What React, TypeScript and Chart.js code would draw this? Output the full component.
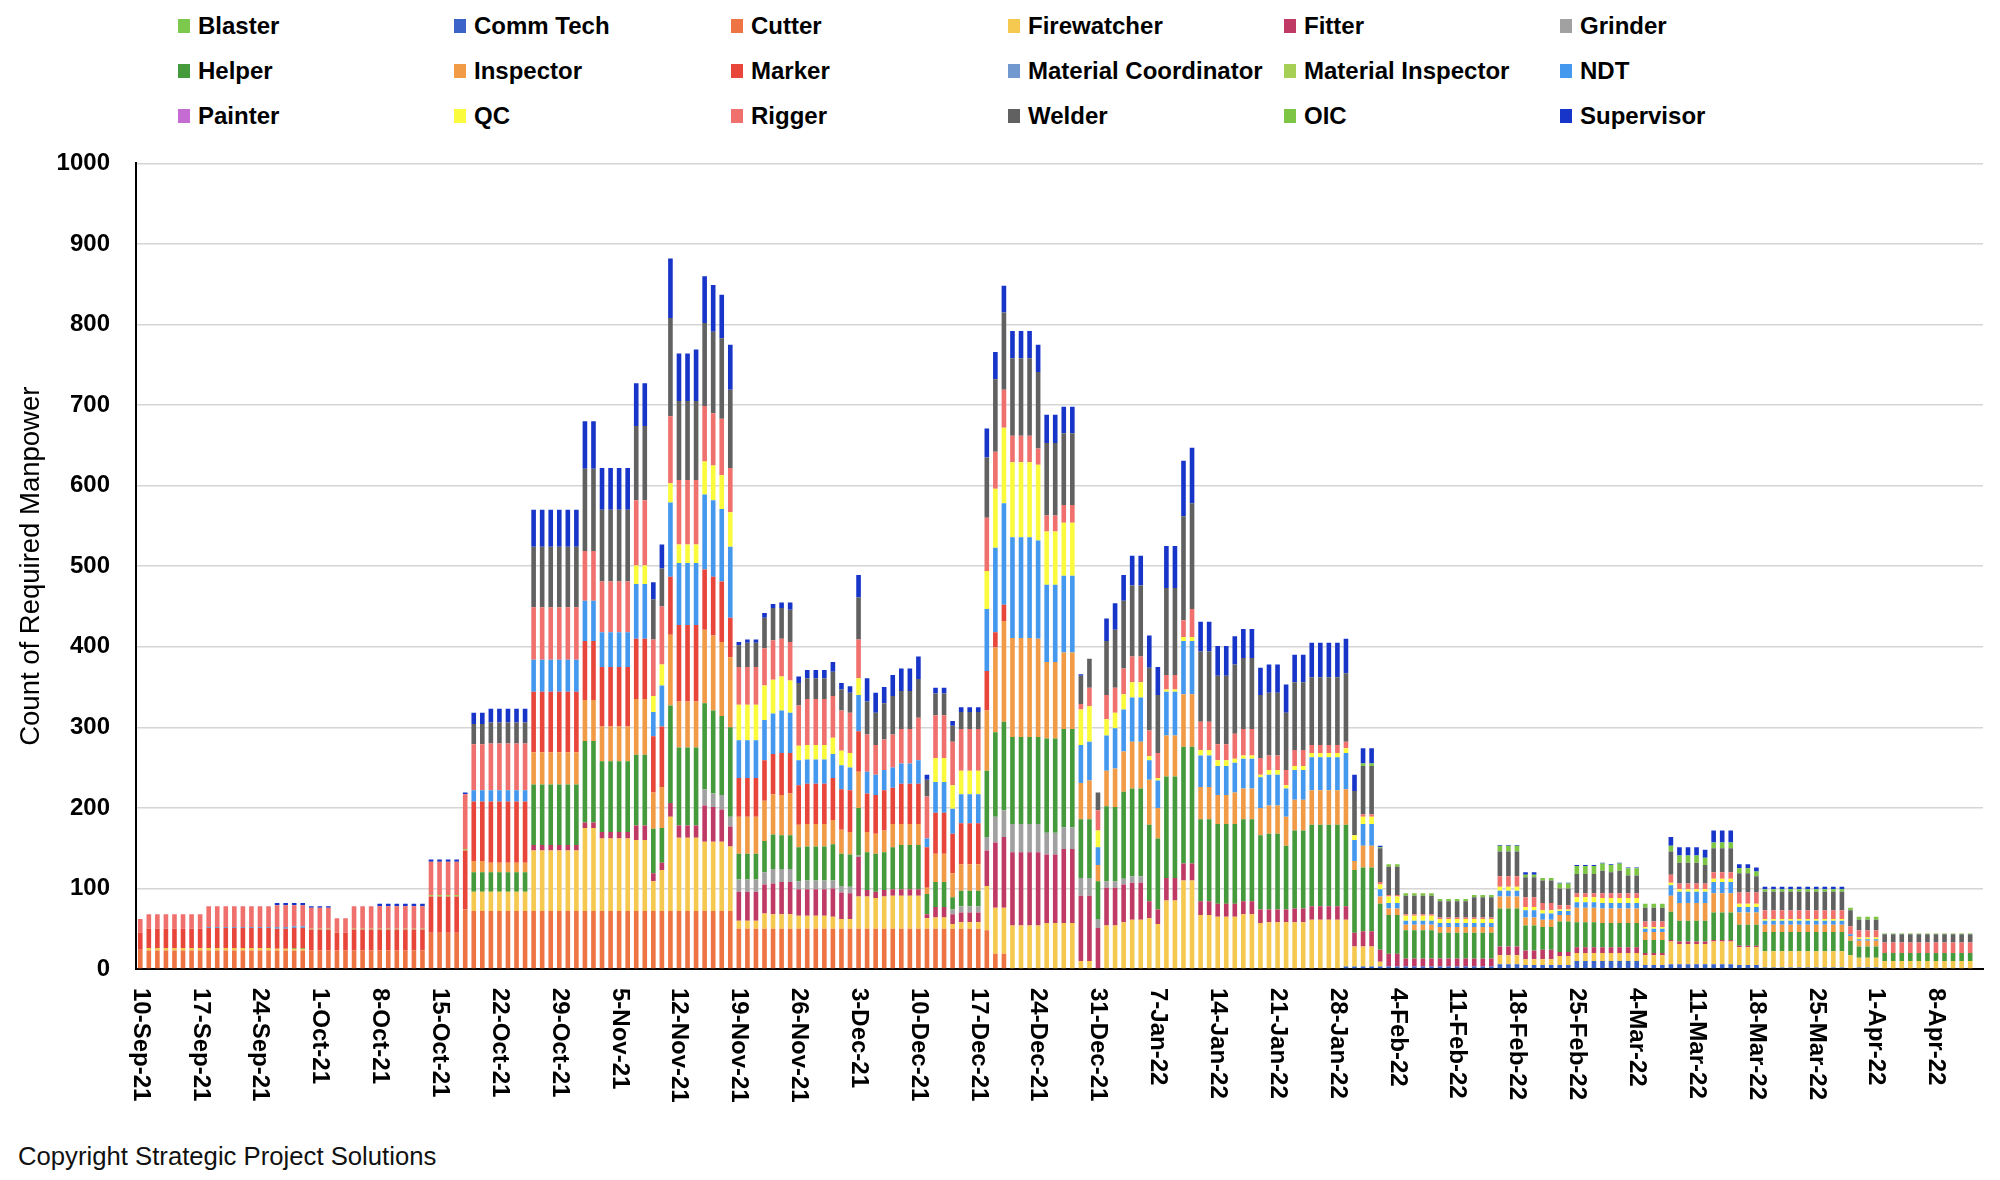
import React, { useEffect, useRef } from "react";
import { Chart, registerables } from "chart.js";

Chart.register(...registerables);

const FONT = '"Liberation Sans", Arial, Helvetica, sans-serif';

// ---- categories: one per day from 10-Sep-21 (216 days, last one empty) ----
const START_DATE = { y: 2021, m: 8, d: 10 };
const DAY_COUNT = 216;
const MONTHS = ["Jan", "Feb", "Mar", "Apr", "May", "Jun", "Jul", "Aug", "Sep", "Oct", "Nov", "Dec"];
function buildCategories(): string[] {
  const out: string[] = [];
  for (let i = 0; i < DAY_COUNT; i++) {
    const dt = new Date(Date.UTC(START_DATE.y, START_DATE.m, START_DATE.d + i));
    out.push(`${dt.getUTCDate()}-${MONTHS[dt.getUTCMonth()]}-${String(dt.getUTCFullYear()).slice(2)}`);
  }
  return out;
}
const CATEGORIES = buildCategories();

const TICK_LABELS = [
  "10-Sep-21", "17-Sep-21", "24-Sep-21", "1-Oct-21", "8-Oct-21", "15-Oct-21", "22-Oct-21",
  "29-Oct-21", "5-Nov-21", "12-Nov-21", "19-Nov-21", "26-Nov-21", "3-Dec-21", "10-Dec-21",
  "17-Dec-21", "24-Dec-21", "31-Dec-21", "7-Jan-22", "14-Jan-22", "21-Jan-22", "28-Jan-22",
  "4-Feb-22", "11-Feb-22", "18-Feb-22", "25-Feb-22", "4-Mar-22", "11-Mar-22", "18-Mar-22",
  "25-Mar-22", "1-Apr-22", "8-Apr-22",
];

const Y_TICKS = [0, 100, 200, 300, 400, 500, 600, 700, 800, 900, 1000];

// ---- series values (one value per day, a line per week) ----
const BLASTER: number[] = [];
const PAINTER: number[] = [];

const COMM_TECH = [
  0,0,0,0,0,0,0, 0,0,0,0,0,0,0, 0,0,0,0,0,0,0, 0,0,0,0,0,0,0, 0,0,0,0,0,0,0,
  0,0,0,0,0,0,0, 0,0,0,0,0,0,0, 0,0,0,0,0,0,0, 0,0,0,0,0,0,0, 0,0,0,0,0,0,0,
  0,0,0,0,0,0,0, 0,0,0,0,0,0,0, 0,0,0,0,0,0,0, 0,0,0,0,0,0,0, 0,0,0,0,0,0,0,
  0,0,0,0,0,0,0, 0,0,0,0,0,0,0, 0,0,0,0,0,0,0, 0,0,0,0,0,0,0, 0,0,0,0,0,0,0,
  0,3,3,3,3,3,3, 3,3,3,3,3,3,3, 3,3,3,3,3,6,6, 6,5,5,5,5,5,5, 10,10,10,10,10,10,10,
  10,5,5,5,6,6,6, 6,6,6,6,6,5,5, 5,2,2,2,2,2,2, 2,2,2,2,0,2,2, 2,0,0,0,0,0,0,
  0,0,0,0,0,0,
];

const CUTTER = [
  24,23,23,23,23,23,23, 23,23,23,23,23,23,23, 23,23,23,23,23,23,23, 23,23,23,23,23,23,23,
  23,23,23,23,23,23,45, 45,45,45,74,72,72,72, 72,72,72,72,72,72,72, 72,72,72,72,72,72,72,
  72,72,72,72,72,72,72, 72,72,72,72,72,72,72, 50,50,50,50,50,50,50, 50,50,50,50,50,50,50,
  50,50,50,50,50,50,50, 50,50,50,50,50,50,50, 50,48,19,19,0,0,0, 0,0,0,0,0,0,0,
  0,0,0,0,0,0,0, 0,0,0,0,0,0,0, 0,0,0,0,0,0,0, 0,0,0,0,0,0,0, 0,0,0,0,0,0,0,
  0,0,0,0,0,0,0, 0,0,0,0,0,0,0, 0,0,0,0,0,0,0, 0,0,0,0,0,0,0, 0,0,0,0,0,0,0,
  0,0,0,0,0,0,0, 0,0,0,0,0,0,0, 0,0,0,0,0,0,
];

const FIREWATCHER = [
  0,3,3,3,3,3,3, 3,3,3,3,3,3,3, 3,3,2,2,2,2,0, 0,0,0,0,0,0,0, 0,0,0,0,0,0,0,
  0,0,0,0,24,24,24, 24,24,24,24,75,75,75, 75,75,75,103,103,90,90, 90,90,88,88,37,51,117,
  91,91,91,86,86,86,80, 10,10,10,19,18,18,18, 16,16,16,16,15,12,12, 40,40,38,40,41,41,41,
  41,13,14,14,6,8,8, 8,55,57,57,54,54,54, 54,57,57,57,57,10,10, 0,54,54,58,61,61,63,
  56,85,85,110,110,67,67, 65,65,65,68,68,57,58, 58,58,58,58,61,61,61, 61,58,25,25,25,6,0,
  0,0,0,0,0,0,0, 0,0,0,0,0,11,11, 11,7,7,7,7,11,11, 10,10,10,10,10,10,10,
  10,12,12,12,28,25,25, 25,25,28,28,28,22,22, 22,20,20,20,20,20,20, 20,20,20,20,17,12,12,
  12,10,10,10,10,10,10, 10,10,10,10,10,0,
];

const FITTER = [
  0,0,0,0,0,0,0, 0,0,0,0,0,0,0, 0,0,0,0,0,0,0, 0,0,0,0,0,0,0, 0,0,0,0,0,0,0,
  0,0,0,0,0,0,0, 0,0,0,0,7,7,7, 7,7,7,7,7,8,8, 8,8,18,18,10,9,17,
  15,15,15,45,43,40,25, 36,36,36,36,38,40,40, 33,33,33,33,35,33,32, 49,8,8,8,8,8,8,
  8,5,13,13,12,12,12, 12,44,81,88,91,91,91, 91,85,85,92,92,81,81, 51,47,47,47,46,46,21,
  18,28,28,21,21,17,17, 16,16,16,16,16,17,16, 16,16,17,17,17,17,17, 17,17,17,19,19,15,16,
  16,10,10,10,10,10,10, 10,10,10,10,10,11,11, 11,11,11,12,12,5,5, 7,7,7,7,7,7,7,
  7,3,3,3,2,3,3, 3,3,2,2,2,2,2, 2,0,0,0,0,0,0, 0,0,0,0,0,0,0,
  0,0,0,0,0,0,0, 0,0,0,0,0,0,
];

const GRINDER = [
  0,0,0,0,0,0,0, 0,0,0,0,0,0,0, 0,0,0,0,0,0,0, 0,0,0,0,0,0,0, 0,0,0,0,0,0,0,
  0,0,0,0,0,0,0, 0,0,0,0,0,0,0, 0,0,0,0,0,0,0, 0,0,0,0,0,0,0,
  0,0,0,20,17,18,12, 15,15,15,15,18,16,16, 10,11,11,11,10,8,8, 2,0,0,0,0,0,0,
  0,0,0,0,6,8,8, 8,17,32,33,35,35,35, 35,27,27,27,27,22,22, 11,8,8,7,8,8,0,
  0,0,0,0,0,0,0, 0,0,0,0,0,0,0, 0,0,0,0,0,0,0, 0,0,0,0,0,0,0,
  0,0,0,0,0,0,0, 0,0,0,0,0,0,0, 0,0,0,0,0,0,0, 0,0,0,0,0,0,0,
  0,0,0,0,0,0,0, 0,0,0,0,0,0,0, 0,0,0,0,0,0,0, 0,0,0,0,0,0,0,
  0,0,0,0,0,0,0, 0,0,0,0,0,0,
];

const HELPER = [
  0,0,0,0,0,0,0, 0,0,0,0,0,0,0, 0,0,0,0,1,1,0, 0,0,0,0,0,0,0, 0,0,0,0,0,0,0,
  0,0,0,0,24,24,24, 24,24,24,24,75,75,75, 75,75,75,101,101,88,88, 88,88,88,88,55,43,121,
  97,97,97,107,103,98,111, 32,32,32,39,43,42,42, 42,42,42,42,45,40,40, 59,47,47,47,52,55,55,
  55,25,31,31,15,19,19, 19,82,105,110,108,108,108, 108,117,117,122,122,73,73, 47,93,92,108,109,109,95,
  88,126,126,145,145,102,102, 99,99,99,102,102,92,94, 94,79,97,97,101,101,101, 101,101,78,79,79,57,48,
  48,35,35,35,35,32,32, 32,32,32,32,32,47,47, 47,31,31,28,28,38,38, 31,31,31,30,30,30,30,
  30,16,16,16,35,26,26, 26,26,34,34,34,26,26, 26,24,24,24,24,24,24, 24,24,24,24,18,14,14,
  14,10,10,10,10,10,10, 10,10,10,10,10,0,
];

const INSPECTOR = [
  0,0,0,0,0,0,0, 0,0,0,0,0,0,0, 0,0,0,0,0,0,0, 0,0,0,0,0,0,0, 0,0,0,0,0,0,0,
  0,0,0,0,14,14,12, 12,12,12,12,40,40,40, 40,40,40,51,51,43,43, 43,43,69,69,45,51,88,
  57,57,57,91,93,92,87, 46,46,46,50,50,50,52, 28,28,28,28,30,30,28, 45,25,25,27,29,26,26,
  26,8,35,35,30,33,33, 33,75,105,125,123,123,123, 122,95,95,95,95,45,48, 20,44,48,50,58,58,56,
  38,51,51,65,65,40,40, 36,36,39,38,38,34,35, 35,36,38,38,43,43,43, 43,44,11,27,27,9,8,
  8,7,7,7,7,7,7, 7,7,7,7,7,15,15, 15,10,10,9,9,8,8, 18,18,18,18,18,18,18,
  18,10,10,10,20,22,22, 22,22,24,24,24,15,15, 15,9,9,9,9,9,9, 9,9,9,9,6,7,7,
  7,0,0,0,0,0,0, 0,0,0,0,0,0,
];

const MARKER = [
  21,24,24,24,24,24,24, 24,25,25,25,25,25,25, 25,25,25,25,25,25,26, 26,26,22,22,26,26,26,
  26,26,26,26,26,26,45, 45,45,45,73,74,74,76, 76,76,76,76,75,75,75, 75,75,75,73,73,74,74,
  74,74,75,75,70,75,72, 95,95,95,75,73,75,49, 48,48,48,50,50,52,50, 49,50,50,50,52,50,52,
  50,48,48,50,45,50,50, 50,50,51,51,49,51,51, 51,49,19,20,0,0,0, 0,0,0,0,0,0,0,
  0,0,0,0,0,0,0, 0,0,0,0,0,0,0, 0,0,0,0,0,0,0, 0,0,0,0,0,0,0, 0,0,0,0,0,0,0,
  0,0,0,0,0,0,0, 0,0,0,0,0,0,0, 0,0,0,0,0,0,0, 0,0,0,0,0,0,0, 0,0,0,0,0,0,0,
  0,0,0,0,0,0,0, 0,0,0,0,0,0,0, 0,0,0,0,0,0,
];

const MATERIAL_COORDINATOR = [
  0,0,0,0,0,0,0, 0,1,1,1,1,1,1, 1,1,2,2,2,2,0,
];

const MATERIAL_INSPECTOR = [
  0,0,0,0,0,0,0, 0,0,0,0,0,0,0, 0,0,0,0,0,0,1, 1,1,0,0,1,1,1,
  1,1,1,1,1,1,2, 2,2,2,2,0,0,0,
];

const NDT = [
  0,0,0,0,0,0,0, 0,0,0,0,0,0,0, 0,0,0,0,0,0,0, 0,0,0,0,0,0,0, 0,0,0,0,0,0,0,
  0,0,0,0,14,14,14, 14,14,14,14,40,40,40, 40,40,40,50,50,43,43, 43,43,68,68,30,51,92,
  77,77,77,93,95,90,88, 47,47,47,50,50,53,50, 31,30,30,30,30,30,28, 45,27,25,25,25,25,25,
  29,11,38,38,31,36,36, 36,77,105,126,125,125,125, 122,96,96,95,95,47,48, 22,44,50,52,55,55,24,
  34,54,54,66,66,39,39, 36,36,37,37,37,38,38, 38,35,37,37,41,41,41, 41,45,26,27,27,9,7,
  7,5,5,5,5,5,5, 5,5,5,5,5,7,7, 7,9,9,8,8,5,5, 7,7,7,7,7,7,7,
  7,4,4,4,13,14,14, 14,14,14,14,14,7,7, 7,5,5,5,5,5,5, 5,5,5,5,2,2,2,
  2,0,0,0,0,0,0, 0,0,0,0,0,0,
];

const QC = [
  0,0,0,0,0,0,0, 0,0,0,0,0,0,0, 0,0,0,0,0,0,0, 0,0,0,0,0,0,0, 0,0,0,0,0,0,0,
  0,0,0,0,0,0,0, 0,0,0,0,0,0,0, 0,0,0,0,0,0,0, 0,0,23,23,20,26,24,
  23,23,23,41,43,42,43, 44,44,44,43,42,42,40, 18,18,18,18,20,18,18, 21,0,0,0,0,0,0,
  0,0,30,30,29,29,29, 29,47,73,94,93,93,93, 94,66,66,66,66,44,44, 21,20,19,19,19,19,5,
  3,3,3,5,5,7,7, 7,7,5,4,4,3,6, 6,4,5,5,5,5,5, 5,6,6,9,9,6,8,
  8,6,6,6,6,5,5, 5,5,5,5,5,5,5, 5,4,4,4,4,2,2, 6,6,6,6,6,6,6,
  6,2,2,2,3,3,3, 3,3,4,4,4,4,4, 4,2,2,2,2,2,2, 2,2,2,2,0,2,2,
  2,0,0,0,0,0,0, 0,0,0,0,0,0,
];

const RIGGER = [
  17,18,18,18,18,18,18, 18,26,26,26,26,26,26, 26,26,27,27,26,26,26, 26,26,18,18,28,28,28,
  28,28,28,28,28,28,41, 41,41,41,68,57,57,58, 58,58,58,58,65,65,65, 65,65,65,62,62,63,63,
  63,63,81,81,70,72,83, 80,80,80,69,65,70,55, 47,47,47,46,49,47,48, 50,57,57,57,52,50,50,
  48,46,37,38,41,43,43, 53,52,53,53,54,52,52, 52,66,46,47,33,33,33, 20,20,20,22,22,7,23,
  25,30,31,32,32,32,32, 31,18,18,21,35,35,35, 20,20,31,33,33,21,18, 18,19,20,20,10,10,10,
  10,8,0,3,3,3,2, 2,2,2,2,2,2,2, 2,2,2,2,2,13,13, 13,12,12,9,9,5,5,
  5,5,5,6,6,6,6, 6,7,7,7,10,7,7, 7,7,8,8,8,14,14, 14,11,11,11,11,11,11,
  11,11,11,11,10,9,9, 9,13,13,13,13,13,13, 13,13,13,13,13,0,
];

const WELDER = [
  0,0,0,0,0,0,0, 0,0,0,0,0,0,0, 0,0,0,0,0,0,0, 0,0,0,0,0,0,0, 0,0,0,0,0,0,0,
  0,0,0,0,25,25,26, 26,26,26,26,75,75,75, 75,75,75,102,102,89,89, 89,89,92,92,50,47,122,
  98,98,98,103,101,100,97, 27,30,30,38,40,38,40, 28,26,26,26,30,26,25, 52,41,40,45,48,47,47,
  48,21,27,27,20,21,21, 21,75,90,96,96,96,96, 95,90,90,89,89,35,36, 22,67,72,84,88,88,78,
  72,108,108,129,131,87,87, 85,85,86,88,88,78,78, 78,71,84,84,84,84,84, 84,85,55,60,60,42,35,
  35,23,23,23,23,20,20, 20,20,25,25,25,31,31, 31,25,25,28,28,21,21, 24,24,24,28,26,28,22,
  22,17,17,17,29,26,26, 26,23,30,30,30,24,24, 20,23,23,23,23,23,23, 23,23,23,23,20,13,13,
  13,10,10,10,10,10,10, 10,10,10,10,10,0,
];

const OIC = [
  0,0,0,0,0,0,0, 0,0,0,0,0,0,0, 0,0,0,0,0,0,0, 0,0,0,0,0,0,0, 0,0,0,0,0,0,0,
  0,0,0,0,0,0,0, 0,0,0,0,0,0,0, 0,0,0,0,0,0,0, 0,0,0,0,0,0,0,
  0,0,0,0,0,0,0, 0,0,0,0,0,0,0, 0,0,0,0,0,0,0, 0,0,0,0,0,0,0,
  0,0,0,0,0,0,0, 0,0,0,0,0,0,0, 0,0,0,0,0,0,0, 0,0,0,0,0,0,0,
  0,0,0,0,0,0,0, 0,0,0,0,0,0,0, 0,0,0,0,0,0,0, 0,0,0,3,3,1,3,
  3,3,3,3,3,3,3, 3,3,3,3,3,7,7, 7,3,3,3,3,6,6, 10,10,10,9,9,9,9,
  9,5,5,5,7,9,9, 9,9,7,7,7,6,6, 6,3,3,3,3,3,3, 3,3,3,3,3,4,4,
  4,1,1,1,1,1,1, 1,1,1,1,1,0,
];

const SUPERVISOR = [
  0,0,0,0,0,0,0, 0,0,0,0,0,0,0, 0,0,3,3,3,3,2, 2,2,0,0,0,0,0, 3,3,3,3,3,3,3,
  3,3,3,2,14,14,17, 17,17,17,17,46,46,46, 46,46,46,59,59,52,52, 52,52,53,53,21,30,74,
  59,59,64,58,58,54,56, 4,4,4,6,5,7,9, 8,10,10,10,12,8,8, 28,29,25,20,26,28,28,
  28,6,7,7,6,6,6, 6,36,34,33,34,34,34, 34,35,35,33,33,2,0, 0,28,33,32,37,37,40,
  35,52,52,69,69,37,37, 37,37,35,36,36,34,35, 35,35,34,34,43,43,43, 43,43,20,19,19,2,0,
  0,0,0,0,0,0,0, 0,0,0,0,0,1,1, 1,3,3,0,0,1,1, 1,1,1,1,1,1,1,
  1,0,0,0,11,10,10, 10,10,15,15,15,5,5, 5,3,3,3,3,3,3, 3,3,3,3,0,0,0,
  0,0,0,0,0,0,0, 0,0,0,0,0,0,
];

const SERIES_NAMES = [
  "Blaster", "Comm Tech", "Cutter", "Firewatcher", "Fitter", "Grinder",
  "Helper", "Inspector", "Marker", "Material Coordinator", "Material Inspector", "NDT",
  "Painter", "QC", "Rigger", "Welder", "OIC", "Supervisor",
];
const SERIES_VALUES = [
  BLASTER, COMM_TECH, CUTTER, FIREWATCHER, FITTER, GRINDER,
  HELPER, INSPECTOR, MARKER, MATERIAL_COORDINATOR, MATERIAL_INSPECTOR, NDT,
  PAINTER, QC, RIGGER, WELDER, OIC, SUPERVISOR,
];
const SERIES_COLORS = [
  "#7dc94d", "#3b63c8", "#ef7443", "#f5c84f", "#bf3b66", "#a1a1a1",
  "#459a3c", "#f29b47", "#e8453b", "#7199cf", "#a5cf55", "#4499ef",
  "#c56cd2", "#fbfb3e", "#ef706c", "#616161", "#7cc545", "#1835c9",
];

const LEGEND_COL_X = [178, 454, 731, 1008, 1284, 1560];
const LEGEND_ROW_Y = [26, 71, 116];

const CANVAS_TOP = 123;
const CANVAS_HEIGHT = 1017;

const xDateLabels = {
  id: "xDateLabels",
  afterDraw(chart: any) {
    const { ctx, chartArea, scales } = chart;
    const xs = scales.x;
    ctx.save();
    ctx.font = `bold 24px ${FONT}`;
    ctx.fillStyle = "#000";
    ctx.textAlign = "left";
    ctx.textBaseline = "middle";
    for (const lbl of TICK_LABELS) {
      const idx = CATEGORIES.indexOf(lbl);
      if (idx < 0) continue;
      const px = xs.getPixelForValue(idx);
      ctx.save();
      ctx.translate(px, chartArea.bottom + 19);
      ctx.rotate(Math.PI / 2);
      ctx.fillText(lbl, 0, 0);
      ctx.restore();
    }
    ctx.restore();
  },
};

function ManpowerChart() {
  const ref = useRef<HTMLCanvasElement | null>(null);
  useEffect(() => {
    if (!ref.current) return;
    const chart = new Chart(ref.current, {
      type: "bar",
      data: {
        labels: CATEGORIES,
        datasets: SERIES_NAMES.map((name, i) => ({
          label: name,
          data: SERIES_VALUES[i],
          backgroundColor: SERIES_COLORS[i],
          borderWidth: 0,
          categoryPercentage: 1,
          barPercentage: 0.54,
        })),
      },
      options: {
        animation: false,
        responsive: false,
        devicePixelRatio: 1,
        layout: { padding: { top: 0, left: 8, right: 17, bottom: 171 } },
        plugins: { legend: { display: false }, tooltip: { enabled: false } },
        scales: {
          x: {
            stacked: true,
            grid: { display: false, drawTicks: false },
            ticks: { display: false },
            border: { display: true, color: "#000", width: 2 },
            afterFit: (s: any) => { s.height = 0; },
          },
          y: {
            stacked: true,
            min: 0,
            max: 1000,
            afterBuildTicks: (s: any) => { s.ticks = Y_TICKS.map((v) => ({ value: v })); },
            afterFit: (s: any) => { s.width = 128; },
            grid: {
              color: (c: any) => (c.tick && c.tick.value === 0 ? "#000" : "#d5d5d5"),
              lineWidth: 1.5,
              drawTicks: false,
            },
            border: { display: true, color: "#000", width: 2 },
            ticks: {
              padding: 26,
              color: "#000",
              font: { family: FONT, size: 24, weight: "bold" },
              callback: (v: any) => String(v),
            },
            title: {
              display: true,
              text: "Count of Required Manpower",
              color: "#000",
              font: { family: FONT, size: 27.5, weight: "normal" },
              padding: { top: 7, bottom: 0 },
            },
          },
        },
      },
      plugins: [xDateLabels],
    } as any);
    return () => chart.destroy();
  }, []);
  return (
    <canvas
      ref={ref}
      width={2000}
      height={CANVAS_HEIGHT}
      style={{ position: "absolute", left: 0, top: CANVAS_TOP, width: 2000, height: CANVAS_HEIGHT }}
    />
  );
}

export default function App() {
  return (
    <div
      style={{
        position: "absolute",
        left: 0,
        top: 0,
        width: 2000,
        height: 1180,
        background: "#fff",
        fontFamily: FONT,
        overflow: "hidden",
      }}
    >
      {SERIES_NAMES.map((name, i) => (
        <div
          key={name}
          style={{
            position: "absolute",
            left: LEGEND_COL_X[i % 6],
            top: LEGEND_ROW_Y[Math.floor(i / 6)] - 15,
            height: 30,
            display: "flex",
            alignItems: "center",
            whiteSpace: "nowrap",
          }}
        >
          <span
            style={{
              display: "inline-block",
              width: 12,
              height: 14,
              background: SERIES_COLORS[i],
              marginRight: 8,
            }}
          />
          <span style={{ fontSize: 24, fontWeight: "bold", color: "#000" }}>{name}</span>
        </div>
      ))}
      <ManpowerChart />
      <div
        style={{
          position: "absolute",
          left: 18,
          top: 1141,
          fontSize: 25.7,
          lineHeight: "30px",
          color: "#111",
        }}
      >
        Copyright Strategic Project Solutions
      </div>
    </div>
  );
}
